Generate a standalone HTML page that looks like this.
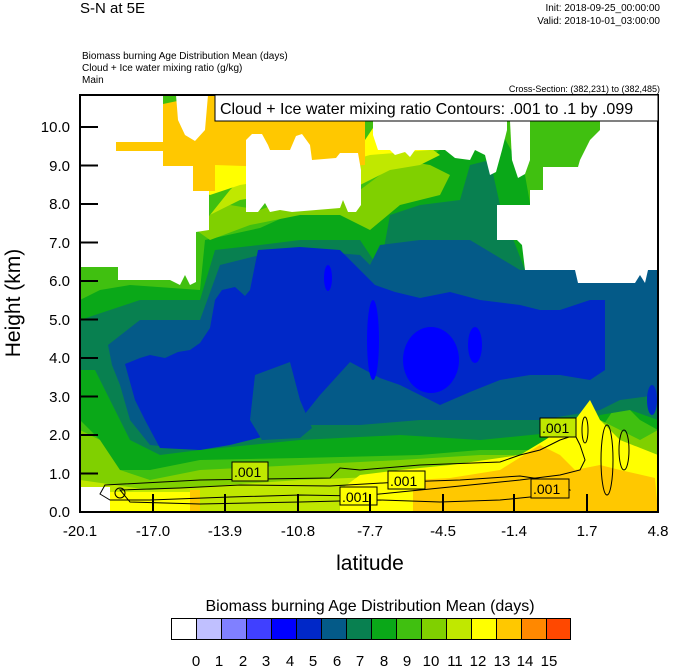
<!DOCTYPE html>
<html><head><meta charset="utf-8"><style>
body{margin:0;background:#fff;width:674px;height:668px;overflow:hidden}
svg{display:block}
text{font-family:"Liberation Sans",sans-serif;fill:#000}
</style></head><body>
<svg width="674" height="668" viewBox="0 0 674 668">
<defs><clipPath id="c"><rect x="80" y="95" width="578" height="417"/></clipPath></defs>
<g clip-path="url(#c)">
<rect x="80" y="95" width="578" height="417" fill="#40c010"/>
<polygon fill="#0aa818" points="80,300 100,290 130,285 200,290 205,240 260,228 300,210 355,215 375,195 400,175 440,150 470,140 500,130 525,175 540,260 600,270 658,270 658,430 640,420 620,400 600,430 560,450 480,450 420,455 300,458 200,460 150,470 110,470 100,440 80,420"/>
<polygon fill="#088050" points="80,320 140,300 200,300 215,250 260,245 300,240 360,240 380,270 390,215 420,205 460,200 470,165 490,160 500,205 525,270 658,270 658,420 630,410 600,415 580,430 480,440 400,435 300,440 200,450 160,455 130,440 110,400 95,370 80,370"/>
<polygon fill="#045a88" points="108,345 140,320 200,320 220,265 260,255 300,250 360,255 370,265 380,245 420,240 470,240 520,270 658,270 658,395 620,400 600,410 540,420 480,420 420,420 360,425 300,425 250,440 200,450 150,445 130,420 120,385 112,365"/>
<polygon fill="#0028c8" points="125,364 140,358 150,355 165,358 178,352 190,350 200,343 210,328 215,300 222,290 235,287 245,296 250,290 258,250 300,247 340,250 355,265 375,285 395,292 420,298 450,292 480,300 520,305 540,310 560,310 590,300 605,300 605,370 590,380 560,375 530,375 500,380 470,392 440,405 400,385 380,378 350,362 320,395 300,420 270,435 230,445 200,450 160,448 145,420 135,400"/>
<polygon fill="#045a88" points="255,375 290,362 300,400 312,428 300,438 262,440 250,420"/>
<ellipse cx="328" cy="278" rx="4" ry="13" fill="#0000ff"/>
<ellipse cx="373" cy="340" rx="6" ry="40" fill="#0000ff"/>
<ellipse cx="431" cy="360" rx="28" ry="33" fill="#0000ff"/>
<ellipse cx="475" cy="345" rx="7" ry="18" fill="#0000ff"/>
<ellipse cx="652" cy="400" rx="5" ry="15" fill="#0028c8"/>
<polygon fill="#80d000" points="80,430 100,440 120,470 150,480 200,470 300,465 400,460 480,455 540,455 580,440 600,420 620,430 640,440 658,430 658,512 80,512"/>
<polygon fill="#c0e800" points="80,480 150,490 300,480 420,475 540,465 580,450 600,430 620,450 640,470 658,470 658,512 80,512"/>
<polygon fill="#ffff00" points="340,490 360,475 400,470 450,465 520,455 545,440 575,420 590,400 600,420 620,440 658,455 658,512 340,512"/>
<rect x="110" y="492" width="90" height="20" fill="#ffff00"/>
<rect x="190" y="490" width="10" height="22" fill="#ffc800"/>
<polygon fill="#ffc800" points="413,512 413,480 450,478 500,470 540,445 560,455 575,470 600,465 620,470 655,478 658,512"/>
<rect x="80" y="487" width="30" height="25" fill="#fff"/>
<polygon fill="#80d000" points="196,230 210,215 230,205 260,210 300,195 360,190 380,175 400,160 430,165 450,175 440,195 400,205 370,230 340,215 300,215 250,225 210,240"/>
<polygon fill="#c0e800" points="210,215 230,190 250,170 300,160 360,150 380,140 420,140 440,155 420,165 390,170 360,185 300,190 240,200"/>
<polygon fill="#ffff00" points="195,160 230,150 365,140 375,125 420,125 430,150 370,155 300,175 240,185 210,195 195,190"/>
<polygon fill="#ffc800" points="116,142 163,142 163,104 206,95 365,95 365,165 300,168 215,165 215,191 193,191 193,166 163,166 163,151 116,151"/>
<polygon fill="#fff" points="80,95 163,95 163,142 116,142 116,151 163,151 163,166 193,166 193,191 209,191 209,230 196,232 196,282 190,285 185,275 180,285 170,280 118,280 118,267 80,267"/>
<polygon fill="#fff" points="176,95 208,95 205,130 195,141 185,135 178,120"/>
<polygon fill="#fff" points="246,212 246,140 252,134 262,134 268,145 270,150 290,150 296,136 302,134 310,145 312,160 336,158 340,153 358,153 361,170 361,205 356,212 348,212 343,200 340,208 292,212 280,210 270,212 265,203 258,212"/>
<polygon fill="#fff" points="373,121 507,121 507,130 502,150 496,172 490,175 485,155 475,150 470,160 455,158 445,150 415,150 410,157 405,152 395,155 390,150 378,150 373,135"/>
<polygon fill="#fff" points="510,121 530,121 530,160 525,174 518,178 512,160"/>
<polygon fill="#fff" points="600,121 658,121 658,270 648,270 645,283 640,275 635,283 578,283 575,270 525,270 522,245 517,240 497,240 497,205 530,205 530,190 543,190 543,167 578,167 580,160 585,150 590,140 600,130"/>
<g fill="none" stroke="#000" stroke-width="1">
<path d="M105,485 L200,480 L330,478 L340,468 L360,470 L420,465 L500,462 L520,455 L540,450 L560,440 L575,435 L580,445 L585,460 L580,470 L560,475 L520,480 L480,484 L440,488 L400,492 L360,496 L300,495 L230,497 L150,500 L110,500 L100,494 Z"/>
<path d="M120,490 L180,488 L240,485 L330,486 L400,482 L460,480 L520,476 L560,482 L570,490 L550,495 L500,500 L440,502 L380,500 L300,502 L200,504 L130,502 Z"/>
<ellipse cx="585" cy="430" rx="3" ry="13"/>
<ellipse cx="607" cy="460" rx="6" ry="35"/>
<ellipse cx="624" cy="450" rx="5" ry="20"/>
<ellipse cx="120" cy="493" rx="5" ry="5"/>
</g>
<g font-size="14">
<rect x="232" y="462" width="36" height="19" fill="#c0e800" stroke="#000"/><text x="234" y="477">.001</text>
<rect x="340" y="487" width="37" height="18" fill="#ffff00" stroke="#000"/><text x="342" y="502">.001</text>
<rect x="388" y="471" width="37" height="18" fill="#ffff00" stroke="#000"/><text x="390" y="486">.001</text>
<rect x="540" y="418" width="36" height="19" fill="#c0e800" stroke="#000"/><text x="542" y="433">.001</text>
<rect x="531" y="479" width="38" height="19" fill="#ffc800" stroke="#000"/><text x="533" y="494">.001</text>
</g>
</g>
<rect x="80" y="95" width="578" height="417" fill="none" stroke="#000" stroke-width="2"/>
<rect x="215" y="95" width="443" height="26" fill="#fff" stroke="#000" stroke-width="1"/>
<text x="220" y="114" font-size="16">Cloud + Ice water mixing ratio Contours: .001 to .1 by .099</text>
<g stroke="#000" stroke-width="2">
<line x1="81" y1="512" x2="98" y2="512"/><line x1="81" y1="473.5" x2="98" y2="473.5"/><line x1="81" y1="435" x2="98" y2="435"/><line x1="81" y1="396.5" x2="98" y2="396.5"/><line x1="81" y1="358" x2="98" y2="358"/><line x1="81" y1="319.5" x2="98" y2="319.5"/><line x1="81" y1="281" x2="98" y2="281"/><line x1="81" y1="242.5" x2="98" y2="242.5"/><line x1="81" y1="204" x2="98" y2="204"/><line x1="81" y1="165.5" x2="98" y2="165.5"/><line x1="81" y1="127" x2="98" y2="127"/>
<line x1="153" y1="511" x2="153" y2="494"/><line x1="225" y1="511" x2="225" y2="494"/><line x1="298" y1="511" x2="298" y2="494"/><line x1="370" y1="511" x2="370" y2="494"/><line x1="443" y1="511" x2="443" y2="494"/><line x1="514" y1="511" x2="514" y2="494"/><line x1="587" y1="511" x2="587" y2="494"/>
</g>
<g font-size="15" text-anchor="end">
<text x="70" y="517">0.0</text><text x="70" y="479">1.0</text><text x="70" y="440">2.0</text><text x="70" y="402">3.0</text><text x="70" y="363">4.0</text><text x="70" y="325">5.0</text><text x="70" y="286">6.0</text><text x="70" y="248">7.0</text><text x="70" y="209">8.0</text><text x="70" y="171">9.0</text><text x="70" y="132">10.0</text>
</g>
<g font-size="15" text-anchor="middle">
<text x="80" y="536">-20.1</text><text x="153" y="536">-17.0</text><text x="225" y="536">-13.9</text><text x="298" y="536">-10.8</text><text x="370" y="536">-7.7</text><text x="443" y="536">-4.5</text><text x="514" y="536">-1.4</text><text x="587" y="536">1.7</text><text x="658" y="536">4.8</text>
</g>
<text x="370" y="570" font-size="21" text-anchor="middle">latitude</text>
<text transform="translate(20,303) rotate(-90)" font-size="21" text-anchor="middle">Height (km)</text>
<text x="80" y="13" font-size="15">S-N at 5E</text>
<text x="660" y="11" font-size="10" text-anchor="end">Init: 2018-09-25_00:00:00</text>
<text x="660" y="24" font-size="10" text-anchor="end">Valid: 2018-10-01_03:00:00</text>
<text x="82" y="59" font-size="10">Biomass burning Age Distribution Mean    (days)</text>
<text x="82" y="71" font-size="10">Cloud + Ice water mixing ratio    (g/kg)</text>
<text x="82" y="83" font-size="10">Main</text>
<text x="660" y="92" font-size="9" text-anchor="end">Cross-Section: (382,231) to (382,485)</text>
<text x="370" y="611" font-size="16" text-anchor="middle">Biomass burning Age Distribution Mean  (days)</text>
<g stroke="#000" stroke-width="1">
<rect x="171.5" y="618.5" width="25" height="21" fill="#ffffff"/>
<rect x="196.5" y="618.5" width="25" height="21" fill="#c0c0ff"/>
<rect x="221.5" y="618.5" width="25" height="21" fill="#8080ff"/>
<rect x="246.5" y="618.5" width="25" height="21" fill="#4040ff"/>
<rect x="271.5" y="618.5" width="25" height="21" fill="#0000ff"/>
<rect x="296.5" y="618.5" width="25" height="21" fill="#0028c8"/>
<rect x="321.5" y="618.5" width="25" height="21" fill="#045a88"/>
<rect x="346.5" y="618.5" width="25" height="21" fill="#088050"/>
<rect x="371.5" y="618.5" width="25" height="21" fill="#0aa818"/>
<rect x="396.5" y="618.5" width="25" height="21" fill="#40c010"/>
<rect x="421.5" y="618.5" width="25" height="21" fill="#80d000"/>
<rect x="446.5" y="618.5" width="25" height="21" fill="#c0e800"/>
<rect x="471.5" y="618.5" width="25" height="21" fill="#ffff00"/>
<rect x="496.5" y="618.5" width="25" height="21" fill="#ffc800"/>
<rect x="521.5" y="618.5" width="25" height="21" fill="#ff8800"/>
<rect x="546.5" y="618.5" width="24" height="21" fill="#ff4800"/>
</g>
<g font-size="15" text-anchor="middle">
<text x="196" y="666">0</text><text x="219" y="666">1</text><text x="243" y="666">2</text><text x="266" y="666">3</text><text x="290" y="666">4</text><text x="313" y="666">5</text><text x="337" y="666">6</text><text x="360" y="666">7</text><text x="384" y="666">8</text><text x="407" y="666">9</text><text x="431" y="666">10</text><text x="455" y="666">11</text><text x="478" y="666">12</text><text x="502" y="666">13</text><text x="525" y="666">14</text><text x="549" y="666">15</text>
</g>
</svg>
</body></html>
